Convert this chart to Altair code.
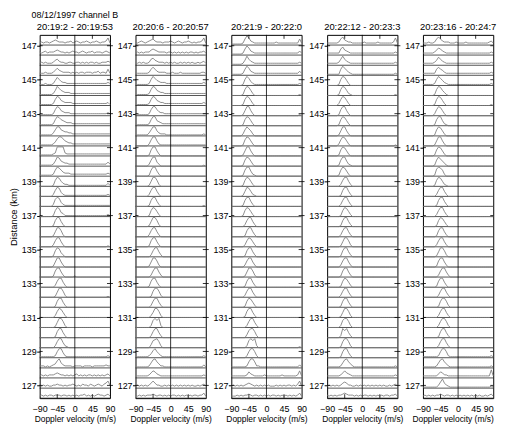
import altair as alt
import pandas as pd

# ---------------- data ----------------
header = "08/12/1997 channel B"
titles = ["20:19:2 - 20:19:53", "20:20:6 - 20:20:57", "20:21:9 - 20:22:0",
          "20:22:12 - 20:23:3", "20:23:16 - 20:24:7"]

# range-gate distances (km), bottom to top
distances = [126.25, 126.84, 127.44, 128.03, 128.63, 129.22, 129.81, 130.41, 131.00,
             131.60, 132.19, 132.78, 133.38, 133.97, 134.57, 135.16, 135.75, 136.35,
             136.94, 137.54, 138.13, 138.72, 139.32, 139.91, 140.51, 141.10, 141.69,
             142.29, 142.88, 143.48, 144.07, 144.66, 145.26, 145.85, 146.45, 147.04]
gate_height = 0.594
y_domain = [126.25, 147.64]

# Doppler velocity bins (m/s)
velocity = [-90, -85, -80, -75, -70, -65, -60, -55, -50, -45, -40, -35, -30, -25,
            -20, -15, -10, -5, 0, 5, 10, 15, 20, 25, 30, 35, 40, 45, 50, 55, 60,
            65, 70, 75, 80, 85, 90]

y_ticks = [127, 129, 131, 133, 135, 137, 139, 141, 143, 145, 147]
x_ticks = [-90, -45, 0, 45, 90]
inner_x_ticks = [-45, 45]

# spectra: one string per gate (top row first), each digit = tenths of gate height
spectra_1 = [
    "232332|34543332|33423432334323343|233472",
    "323423|33454332|32343323432334233|323432",
    "232322|23564332|23322332323233232|233343",
    "222322|23575433|33232323323332334|233262",
    "111211|12586433|22222222222222222|222232",
    "111111|12597543|33222222222222222|222222",
    "111111|12698543|33322222222222222|222231",
    "111111|12698543|33222222222222222|222232",
    "111111|12698654|33322222222222222|222222",
    "111111|13699654|43322222222222222|222222",
    "111111|12479975|43322222222222222|222222",
    "111111|12399993|22222222222222222|222222",
    "111111|12598543|32222222222222222|222242",
    "111111|12698643|33222222222222222|222232",
    "000000|01698532|21111111111111111|111131",
    "000000|02698421|11111111111111111|111121",
    "000000|02798421|11111111111111111|111111",
    "000000|01698431|11111111111111111|111121",
    "000000|01699520|00000000000000000|000000",
    "000000|01599620|00000000000000000|000000",
    "000000|02699520|00000000000000000|000010",
    "000000|01698420|00000000000000000|000000",
    "000000|01599520|00000000000000000|000000",
    "000000|01699520|00001000000000000|000000",
    "000000|00269952|00000000000000000|000000",
    "000000|00159962|00000000000000000|000010",
    "000000|00169952|00000000000000000|000000",
    "000000|00269852|00000000000000000|000000",
    "000000|00159962|00000000000000000|000000",
    "000000|00169952|00000000000000000|000000",
    "000000|00269952|10000000000000000|000000",
    "111111|11269952|11111111111111111|111121",
    "222121|23479532|22212222122221222|222322",
    "232323|33454332|32323423232332323|232342",
    "323232|23343323|23343232433243234|324573",
    "232323|32333233|23232323342323234|332342",
]

spectra_2 = [
    "323432|34564333|23334323432334323|233472",
    "232323|33565433|33233232323232332|323342",
    "223232|23675433|32323232232323232|232342",
    "222222|23686433|33222322232222222|222332",
    "111111|12697543|33222222222222222|222232",
    "111111|12698543|32222222222222222|222222",
    "111111|12698543|32222222222222222|222232",
    "111111|12699643|32222222222222222|222222",
    "111111|12699543|22222222222222222|222222",
    "111111|13699532|22111111111111111|111121",
    "000000|02699521|11111111111111111|111111",
    "000000|01699520|00000000000000000|000000",
    "000000|02699420|00000000000000000|000010",
    "000000|01699520|00000000000000000|000000",
    "000000|01599620|00000000000000000|000000",
    "000000|02699520|00000000000000000|000000",
    "000000|01699520|00000000000000000|000010",
    "000000|01698520|00000000000000000|000000",
    "000000|01599620|00000000000000000|000000",
    "000000|02699520|00000000000000000|000000",
    "000000|01699520|00000000000000000|000000",
    "000000|00269952|00000000000000000|000000",
    "000000|01599620|00000000000000000|000000",
    "000000|00269952|00000000000000000|000000",
    "000000|01699520|00000000000000000|000000",
    "000000|00169962|00000000000000000|000000",
    "000000|00269952|00000000000000000|000000",
    "000000|00259962|00000000000000000|000000",
    "000000|00279792|00000000000000000|000000",
    "000000|00269952|00000000000000000|000000",
    "000000|00378962|00000000000000000|000000",
    "111111|12479642|11111111111111111|111121",
    "111111|12589642|21111111111111111|111131",
    "222222|23576432|22222222222222222|222232",
    "232323|23575332|23232323232323232|232342",
    "323232|33343233|23232332323232323|323352",
]

spectra_3 = [
    "111111|26974322|22222222232222222|222262",
    "111111|26974322|22222222222222222|222242",
    "111111|25964322|22222222222222222|222232",
    "111111|26974322|22222222222222222|222242",
    "000000|16974211|11111111111111111|111121",
    "000000|16985200|00000000000000000|000010",
    "000000|16985200|00000000000000000|000000",
    "000000|15995200|00000000000000000|000010",
    "000000|16985200|00000000000000000|000000",
    "000000|26975200|00000000000000000|000000",
    "000000|16985200|00000000000000000|000000",
    "000000|15995200|00000000000000000|000000",
    "000000|16985200|00000000000000000|000000",
    "000000|16995210|00000000000000000|000000",
    "000000|16985200|00000000000000000|000000",
    "000000|15985210|00000000000000000|000000",
    "000000|16995200|00000000000000000|000000",
    "000000|16985200|00000000000000000|000000",
    "000000|02699520|00000000000000000|000000",
    "000000|01699520|00000000000000000|000000",
    "000000|02698520|00000000000000000|000000",
    "000000|01699520|00000000000000000|000000",
    "000000|02699520|00000000000000000|000000",
    "000000|01599620|00000000000000000|000000",
    "000000|01699520|00000000000000000|000000",
    "000000|02699520|00000000000000000|000000",
    "000000|01698520|00000000000000000|000000",
    "000000|01699520|00000000000000000|000000",
    "000000|00269952|00000000000000000|000000",
    "000000|00379962|00000000000000000|000000",
    "000000|00279792|00000000000000000|000010",
    "000000|00269962|00000000000000000|000000",
    "111111|11269962|21111111111111111|111131",
    "222222|22364322|22232222222232222|222372",
    "232323|23454323|23232322232323233|232472",
    "222323|23343233|23232323323232323|232352",
]

spectra_4 = [
    "222222|36854332|22222322222232222|222372",
    "222222|26854322|22222222222222222|222232",
    "222222|36964322|22222222222222222|222232",
    "111111|16975321|11111111111111111|111121",
    "000000|16985200|00000000000000000|000000",
    "000000|16985210|00000000000000000|000010",
    "000000|26985200|00000000000000000|000000",
    "000000|16995200|00000000000000000|000000",
    "000000|16985200|00000000000000000|000000",
    "000000|15995200|00000000000000000|000000",
    "000000|26985200|00000000000000000|000010",
    "000000|16985200|00000000000000000|000000",
    "000000|16995210|00000000000000000|000000",
    "000000|16985200|00000000000000000|000000",
    "000000|02699520|00000000000000000|000000",
    "000000|01699520|00000000000000000|000000",
    "000000|02699520|00000000000000000|000000",
    "000000|01698520|00000000000000000|000000",
    "000000|01699520|00000000000000000|000000",
    "000000|02699520|00000000000000000|000000",
    "000000|01599620|00000000000000000|000000",
    "000000|01699520|00000000000000000|000000",
    "000000|02699520|00000000000000000|000000",
    "000000|01699520|00000000000000000|000000",
    "000000|01698520|00000000000000000|000000",
    "000000|02699520|00000000000000000|000000",
    "000000|01699520|00000000000000000|000000",
    "000000|01599620|00000000000000000|000000",
    "000000|02799620|00000000000000000|000000",
    "000000|02979520|00000000000000000|000000",
    "000000|01699620|00000000000000000|000000",
    "000000|01699520|00000000000000000|000000",
    "111111|12589642|11111111111111111|111121",
    "222222|23575432|22222222222222222|222232",
    "232323|23565332|23232323232323232|232342",
    "323232|33454333|23232332323232323|323342",
]

spectra_5 = [
    "222322|36864333|22232222322222222|222342",
    "222222|35764322|22222222222222222|222232",
    "222222|35864322|22222222222222222|222232",
    "222222|26865322|22222222222222222|222232",
    "111111|26975321|11111111111111111|111121",
    "000000|16985310|00000000000000000|000000",
    "000000|16985200|00000000000000000|000010",
    "000000|26985200|00000000000000000|000000",
    "000000|16995210|00000000000000000|000000",
    "000000|16985200|00000000000000000|000000",
    "000000|15995200|00000000000000000|000000",
    "000000|16985200|00000000000000000|000000",
    "000000|16975310|00000000000000000|000000",
    "000000|17986200|00000000000000000|000000",
    "000000|16985210|00000000000000000|000000",
    "000000|02699520|00000000000000000|000000",
    "000000|01699520|00000000000000000|000000",
    "000000|02699520|00000000000000000|000000",
    "000000|01698520|00000000000000000|000000",
    "000000|01699520|00000000000000000|000000",
    "000000|02699520|00000000000000000|000000",
    "000000|01599620|00000000000000000|000000",
    "000000|01699520|00000000000000000|000000",
    "000000|00269952|00000000000000000|000000",
    "000000|01699520|00000000000000000|000000",
    "000000|00269952|00000000000000000|000000",
    "000000|00169962|00000000000000000|000000",
    "000000|00269952|00000000000000000|000000",
    "000000|00269962|00000000000000000|000000",
    "000000|00169952|00000000000000000|000000",
    "000000|00269952|00000000000000000|000000",
    "111111|11269962|11111111111111111|111121",
    "111111|12589642|11111111111111111|111121",
    "222222|22465332|22222222222222222|222282",
    "111111|11369532|11111111111111111|111121",
    "232323|23343233|23232323232323232|232342",
]

all_spectra = [spectra_1, spectra_2, spectra_3, spectra_4, spectra_5]

# ---------------- chart ----------------
FONT = "Liberation Sans"
W, H = 71, 367
PERIOD = 96.8

xs = alt.Scale(domain=[-90, 90], nice=False, zero=False)
ys = alt.Scale(domain=y_domain, nice=False, zero=False)


def build_panel(idx):
    last = idx == 4
    spec = all_spectra[idx]
    recs = []
    for j, s in enumerate(spec):
        digits = s.replace("|", "")
        assert len(digits) == len(velocity), (idx, j, len(digits))
        k = len(distances) - 1 - j
        base = distances[k]
        for v, c in zip(velocity, digits):
            recs.append({"v": v, "y": base + int(c) / 10 * gate_height, "gate": k})
    df = pd.DataFrame(recs)

    if last:
        label_align = {"condition": {"test": "datum.value == 90", "value": "right"},
                       "value": "center"}
    else:
        label_align = "center"

    xaxis = alt.Axis(values=x_ticks, title="Doppler velocity (m/s)", tickSize=0,
                     labelPadding=6, grid=False, domain=False, titlePadding=1.5,
                     labelOverlap=False, labelFlush=False, labelAlign=label_align,
                     titleAnchor="end" if last else "middle")
    yaxis = alt.Axis(values=y_ticks, title="Distance (km)" if idx == 0 else None,
                     tickSize=3, labelPadding=0.5, grid=False, domain=False,
                     titlePadding=2.5, labelOverlap=False, titleFontSize=9.5)

    seps = alt.Chart(pd.DataFrame({"d": distances})).mark_rule(
        color="#1a1a1a", strokeWidth=0.75
    ).encode(y=alt.Y("d:Q", scale=ys, axis=yaxis))

    zero = alt.Chart(pd.DataFrame({"v": [0]})).mark_rule(
        color="#000000", strokeWidth=0.8
    ).encode(x=alt.X("v:Q", scale=xs, axis=xaxis))

    traces = alt.Chart(df).mark_line(color="#7a7a7a", strokeWidth=0.85).encode(
        x=alt.X("v:Q", scale=xs, axis=xaxis),
        y=alt.Y("y:Q", scale=ys, axis=yaxis),
        detail="gate:N",
    )

    tick_df = pd.DataFrame({"v": inner_x_ticks})
    bot_ticks = alt.Chart(tick_df).mark_rule(color="#000000", strokeWidth=0.8).encode(
        x=alt.X("v:Q", scale=xs, axis=xaxis), y=alt.value(H), y2=alt.value(H - 4)
    )
    top_ticks = alt.Chart(tick_df).mark_rule(color="#000000", strokeWidth=0.8).encode(
        x=alt.X("v:Q", scale=xs, axis=xaxis), y=alt.value(0), y2=alt.value(4)
    )
    yt_df = pd.DataFrame({"t": y_ticks})
    left_in = alt.Chart(yt_df).mark_rule(color="#000000", strokeWidth=0.8).encode(
        y=alt.Y("t:Q", scale=ys, axis=yaxis), x=alt.value(0), x2=alt.value(3)
    )
    right_ticks = alt.Chart(yt_df).mark_rule(color="#000000", strokeWidth=0.8).encode(
        y=alt.Y("t:Q", scale=ys, axis=yaxis), x=alt.value(W - 3),
        x2=alt.value(W if last else W + 3)
    )

    title_mark = alt.Chart(pd.DataFrame({"t": [titles[idx]]})).mark_text(
        font=FONT, fontSize=9.5, baseline="alphabetic", align="center", color="#000000"
    ).encode(text="t:N", x=alt.value(W / 2), y=alt.value(-5.3))

    layers = [seps, traces, zero, bot_ticks, top_ticks, left_in, right_ticks, title_mark]
    if idx == 0:
        header_mark = alt.Chart(pd.DataFrame({"t": [header]})).mark_text(
            font=FONT, fontSize=9, baseline="alphabetic", align="center",
            color="#000000"
        ).encode(text="t:N", x=alt.value(W / 2), y=alt.value(-16.9))
        layers.append(header_mark)

    return alt.layer(*layers).properties(width=W, height=H)


chart = alt.hconcat(*[build_panel(i) for i in range(5)], spacing=PERIOD - W,
                    bounds="flush").properties(
    padding=0
).configure_view(stroke="#000000", strokeWidth=1).configure_axis(
    labelFont=FONT, titleFont=FONT, labelFontSize=9, titleFontSize=8.5,
    titleFontWeight="normal", labelColor="#000000", titleColor="#000000",
    tickColor="#000000",
)

chart.save("out.html", embed_options={"renderer": "svg", "actions": False})
